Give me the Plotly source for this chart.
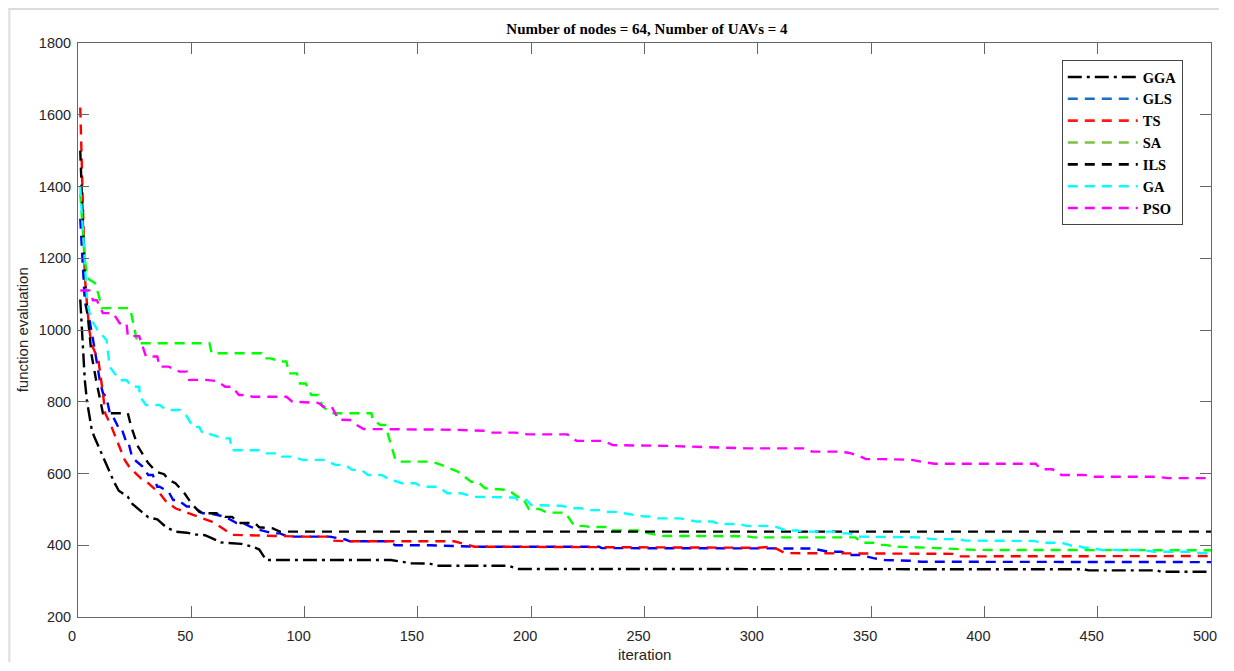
import plotly.graph_objects as go

# ---------------- data ----------------
series_names = ["GGA", "GLS", "TS", "SA", "ILS", "GA", "PSO"]

gga_iter = [1, 2, 3, 4, 5, 6, 7, 8, 10, 12, 14, 16, 18, 20, 22, 24, 27, 31, 35, 39, 43, 48, 52, 56, 59, 63, 72, 77, 80, 83, 138, 143, 147, 155, 159, 190, 194, 444, 446, 476, 478, 500]
gga_val = [1085, 960, 860, 800, 755, 725, 705, 690, 660, 630, 600, 575, 552, 543, 535, 515, 498, 478, 472, 450, 438, 435, 430, 428, 420, 408, 404, 396, 388, 359, 359, 355, 350, 349, 343, 343, 334, 333, 330, 330, 326, 326]

gls_iter = [1, 2, 3, 4, 5, 7, 8, 9.6, 11, 12.5, 14, 15.5, 17.7, 19, 21, 22, 23.7, 25, 28.5, 31, 33, 35, 36, 40, 42, 44, 48, 50.7, 55, 58, 61, 65, 70, 72.7, 76, 80, 86, 89, 93, 111, 118, 120, 137, 140, 155, 165, 175, 230, 231, 324, 331, 337, 340, 345, 351, 356, 361, 367, 372, 500]
gls_val = [1310, 1180, 1080, 1050, 1030, 960, 920, 860, 824, 813, 770, 758, 730, 730, 693, 693, 650, 638, 619, 596, 596, 563, 563, 549, 526, 526, 508, 508, 489, 489, 485, 479, 462, 462, 452, 443, 433, 433, 424, 424, 416, 411, 411, 400, 400, 398, 396, 396, 392, 391, 382, 382, 373, 373, 364, 359, 359, 357, 354, 353]

ts_iter = [1, 2, 3, 4, 5, 6, 8, 9, 11, 12, 14.8, 17.7, 20.6, 23, 25.7, 28, 31, 36, 39, 43, 49, 53.5, 59, 62, 65, 68, 100, 111, 113, 119, 166, 170, 175, 300, 304, 308, 312, 386, 388, 500]
ts_val = [1620, 1400, 1150, 1070, 1000, 960, 930, 916, 824, 768, 730, 684, 638, 615, 600, 585, 573, 545, 521, 503, 489, 479, 466, 455, 443, 429, 424, 424, 413, 411, 411, 405, 396, 393, 395, 391, 378, 376, 369, 370]

sa_iter = [1, 2, 3, 4, 5.3, 7.5, 9, 10.5, 23, 25, 26.3, 58, 59, 81, 82, 85, 89.6, 92, 93, 96.6, 98, 100.5, 103, 106, 108, 112, 129.5, 130, 133.5, 135.6, 138, 140, 141, 156, 160, 167.7, 173.5, 176.5, 179.5, 190, 194, 196, 199, 203.5, 207, 215, 219, 223, 226, 233.5, 235, 247, 252, 258, 295, 298, 343, 346, 351, 353, 356, 361, 380, 396, 500]
sa_val = [1380, 1300, 1200, 1148, 1139, 1131, 1100, 1061, 1061, 1000, 963, 963, 935, 935, 921, 921, 912, 912, 879, 879, 851, 851, 819, 819, 786, 768, 768, 750, 735, 735, 680, 640, 633, 633, 625, 605, 577, 577, 559, 554, 535, 535, 501, 501, 491, 491, 454, 454, 451, 451, 441, 441, 433, 426, 425, 422, 422, 407, 407, 401, 401, 396, 392, 387, 386]

ils_iter = [1, 2, 3, 4, 5, 6, 8, 10, 11, 22, 23.5, 26.5, 29, 31, 34.5, 38, 40, 43, 47, 50, 53.5, 56, 61, 65, 68, 71, 78, 80, 86, 89, 500]
ils_val = [1500, 1300, 1150, 1060, 990, 930, 860, 800, 768, 768, 730, 675, 650, 629, 605, 598, 582, 573, 545, 517, 493, 489, 489, 479, 479, 462, 462, 450, 447, 438, 438]

ga_iter = [1, 2, 3, 4, 5, 6, 8.6, 12.6, 14, 18.5, 21.4, 24, 27, 27.3, 30, 36, 39, 45, 48, 50.7, 53.5, 55, 57, 64, 67, 68, 80, 83, 89, 90, 94.5, 99, 109, 113.5, 118, 121, 125, 128, 134, 137, 143, 149, 151.6, 159, 163, 169, 175, 193, 194, 198, 200, 213, 219, 222, 225, 230.5, 233, 237, 243, 250, 252.5, 255.5, 265.6, 273, 280, 283, 292, 295, 304, 308, 312.6, 317, 321, 333, 336, 340, 345, 351, 353, 371, 377, 388.5, 391.5, 422, 425, 434, 438.5, 441, 444, 447, 451.6, 469, 475, 490, 495.6, 498.5, 500]
ga_val = [1400, 1300, 1180, 1083, 1050, 1028, 1000, 972, 897, 860, 860, 842, 842, 814, 791, 791, 777, 777, 760, 730, 730, 712, 712, 698, 698, 665, 665, 656, 656, 647, 647, 638, 638, 624, 624, 610, 610, 596, 596, 585, 573, 573, 563, 563, 545, 545, 535, 533, 526, 526, 512, 510, 503, 503, 498, 498, 493, 493, 487, 480, 480, 475, 475, 466, 466, 459, 459, 454, 454, 451, 441, 441, 438, 438, 433, 433, 424, 424, 422, 422, 417, 417, 413, 412, 407, 407, 399, 399, 393, 393, 387, 387, 382, 382, 378, 378, 373]

pso_iter = [1, 5, 6.6, 8.3, 11, 15.5, 18.4, 21.4, 22, 27, 30, 35, 36, 40, 44.8, 48, 49, 56.5, 61, 65, 68, 71, 74, 77, 92, 94.6, 106, 108.4, 112, 115, 120, 123, 126, 166, 179.5, 182, 193, 198.5, 216, 220, 232, 236, 260, 295, 321, 324, 336, 340, 345, 347.7, 356, 362, 368, 372, 378, 422.6, 425, 430, 434, 444, 448.6, 476, 481, 500]
pso_val = [1110, 1110, 1083, 1083, 1047, 1047, 1019, 1019, 983, 983, 926, 926, 898, 898, 884, 884, 861, 861, 858, 842, 842, 819, 819, 814, 814, 800, 797, 786, 786, 750, 749, 735, 724, 722, 719, 714, 714, 709, 709, 691, 691, 679, 677, 670, 670, 661, 661, 658, 648, 640, 640, 638, 638, 633, 627, 627, 612, 612, 596, 596, 591, 591, 587, 587]

x_tick_vals = [0, 50, 100, 150, 200, 250, 300, 350, 400, 450, 500]
y_tick_vals = [200, 400, 600, 800, 1000, 1200, 1400, 1600, 1800]

title_text = "Number of nodes = 64, Number of UAVs = 4"
x_label = "iteration"
y_label = "function evaluation"

# ---------------- styles ----------------
line_colors = ["#000000", "#0000ff", "#ff0000", "#00ff00", "#000000", "#00ffff", "#ff00ff"]
legend_colors = ["#000000", "#1a6fc4", "#ff1a1a", "#7cc242", "#000000", "#00ffff", "#ff00ff"]
dash_dashed = "10px,7px"
dash_dashdot = "14px,5px,3px,5px"
dashes = [dash_dashdot] + [dash_dashed] * 6

all_iters = [gga_iter, gls_iter, ts_iter, sa_iter, ils_iter, ga_iter, pso_iter]
all_vals = [gga_val, gls_val, ts_val, sa_val, ils_val, ga_val, pso_val]

fig = go.Figure()
for name, xs, ys, col, dsh in zip(series_names, all_iters, all_vals, line_colors, dashes):
    fig.add_trace(go.Scatter(x=xs, y=ys, mode="lines", name=name, showlegend=False,
                             line=dict(color=col, width=2.4, dash=dsh)))
# legend entries (legend swatches use slightly different colours in the reference)
for name, col, dsh in zip(series_names, legend_colors, dashes):
    fig.add_trace(go.Scatter(x=[None], y=[None], mode="lines", name=name,
                             line=dict(color=col, width=2.6, dash=dsh)))

# the page body adds an 8px margin on every side; keep the figure inside the window
OFF = 8
W, H = 1234 - 2 * OFF, 671 - 2 * OFF
L, T = 78 - OFF, 43 - OFF
R = W - (1217 - OFF)
B = H - (617 - OFF)
pw, ph = W - L - R, H - T - B

def px_x(px):
    return (px - OFF - L) / pw

def px_y(py):
    return (H - B - (py - OFF)) / ph

axis_col = "#666666"
tick_font = dict(family="Liberation Sans, Arial, sans-serif", size=14.5, color="#262626")

fig.update_layout(
    width=W, height=H,
    margin=dict(l=L, r=R, t=T, b=B),
    paper_bgcolor="white", plot_bgcolor="white",
    title=dict(text="<b>" + title_text + "</b>", x=px_x(650), xref="paper", xanchor="center",
               y=1 - (29 - OFF) / H, yanchor="middle",
               font=dict(family="Liberation Serif, Times New Roman, serif", size=15, color="#000000")),
    xaxis=dict(range=[0, 500], tickvals=x_tick_vals, ticks="inside", ticklen=11, tickwidth=1,
               tickcolor=axis_col, showline=True, linecolor=axis_col, linewidth=1, mirror="ticks",
               showgrid=False, zeroline=False, tickfont=tick_font, ticklabelstandoff=6,
               ticklabelshift=-6),
    yaxis=dict(range=[200, 1800], tickvals=y_tick_vals, ticks="inside", ticklen=11, tickwidth=1,
               tickcolor=axis_col, showline=True, linecolor=axis_col, linewidth=1, mirror="ticks",
               showgrid=False, zeroline=False, tickfont=tick_font, ticklabelstandoff=3),
    legend=dict(x=px_x(1067), y=px_y(60), xanchor="left", yanchor="top",
                bgcolor="white", bordercolor="#444444", borderwidth=1,
                font=dict(family="Liberation Serif, Times New Roman, serif", size=14.5,
                          color="#000000", weight="bold"),
                itemwidth=70, tracegroupgap=0),
    annotations=[
        dict(text=x_label, xref="paper", yref="paper", x=px_x(647), y=px_y(654),
             xanchor="center", yanchor="middle", showarrow=False,
             font=dict(family="Liberation Sans, Arial, sans-serif", size=15, color="#262626")),
        dict(text=y_label, xref="paper", yref="paper", x=px_x(22), y=px_y(330),
             xanchor="center", yanchor="middle", showarrow=False, textangle=-90,
             font=dict(family="Liberation Sans, Arial, sans-serif", size=15, color="#262626")),
    ],
    shapes=[
        dict(type="line", xref="paper", yref="paper", x0=px_x(8), x1=px_x(1225), y0=px_y(9), y1=px_y(9),
             line=dict(color="#dcdcdc", width=2), layer="below"),
        dict(type="line", xref="paper", yref="paper", x0=px_x(9), x1=px_x(9), y0=px_y(8), y1=px_y(662),
             line=dict(color="#dcdcdc", width=2), layer="below"),
    ],
)

fig.write_html("out.html")
